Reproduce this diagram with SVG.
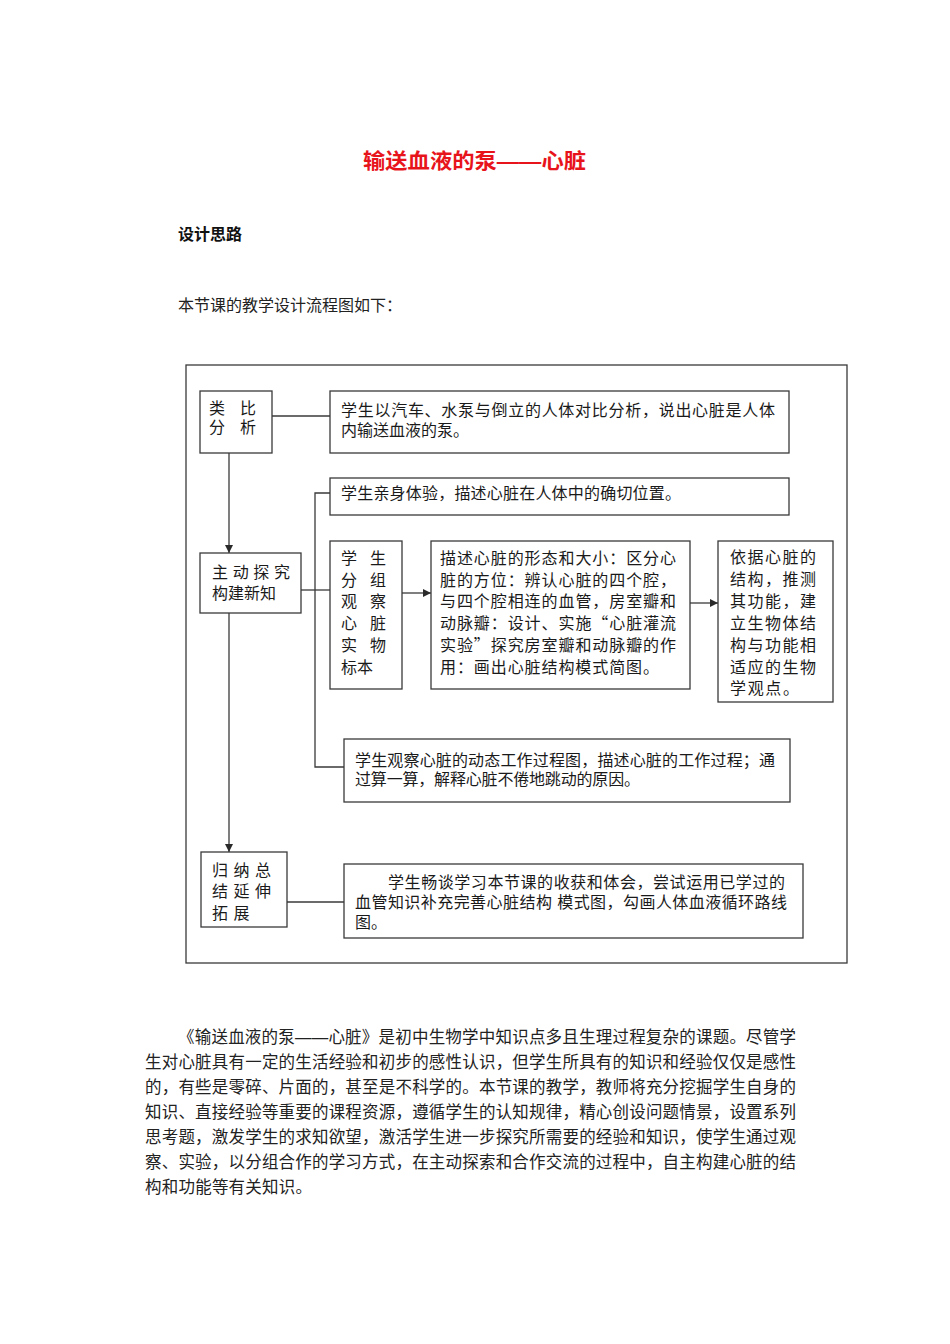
<svg xmlns="http://www.w3.org/2000/svg" width="950" height="1344" viewBox="0 0 950 1344">
<style>
.bg{fill:#ffffff}
.box{fill:#ffffff;stroke:#3a3a3a;stroke-width:1.3}
.frame{fill:none;stroke:#3a3a3a;stroke-width:1.3}
.ln{fill:none;stroke:#3a3a3a;stroke-width:1.3}
.t{font-family:"Liberation Sans","Noto Sans CJK SC","Noto Sans CJK JP",sans-serif;font-size:16px;fill:#1a1a1a}
.p{font-family:"Liberation Sans","Noto Sans CJK SC","Noto Sans CJK JP",sans-serif;font-size:16.5px;fill:#222222}
.title{font-family:"Liberation Sans","Noto Sans CJK SC","Noto Sans CJK JP",sans-serif;font-size:21px;font-weight:bold;fill:#e8141b}
.h{font-family:"Liberation Sans","Noto Sans CJK SC","Noto Sans CJK JP",sans-serif;font-size:16px;font-weight:bold;fill:#111111}
.cjk{font-family:"Noto Sans CJK SC","Noto Sans CJK JP",sans-serif}
</style>
<defs>
<marker id="arr" viewBox="0 0 10 10" refX="10" refY="5" markerWidth="8" markerHeight="8" markerUnits="userSpaceOnUse" orient="auto">
<path d="M0,0 L10,5 L0,10 z" fill="#2a2a2a"/>
</marker>
</defs>
<rect class="bg" x="0" y="0" width="950" height="1344"/>

<text class="title" x="363" y="168" textLength="223" lengthAdjust="spacingAndGlyphs">输送血液的泵——心脏</text>
<text class="h" x="178" y="240">设计思路</text>
<text class="p" x="178" y="311" style="font-size:16px">本节课的教学设计流程图如下：</text>

<rect class="frame" x="186" y="365" width="661" height="598"/>

<g id="connectors">
<line class="ln" x1="272" y1="416" x2="330" y2="416"/>
<line class="ln" x1="229" y1="453" x2="229" y2="553" marker-end="url(#arr)"/>
<line class="ln" x1="301" y1="590" x2="330" y2="590"/>
<polyline class="ln" points="330,493 315,493 315,767 344,767"/>
<line class="ln" x1="402" y1="593" x2="431" y2="593" marker-end="url(#arr)"/>
<line class="ln" x1="690" y1="603" x2="718" y2="603" marker-end="url(#arr)"/>
<line class="ln" x1="229" y1="613" x2="229" y2="852" marker-end="url(#arr)"/>
<line class="ln" x1="287" y1="902" x2="344" y2="902"/>
</g>

<g id="n-leibi">
<rect class="box" x="200" y="391" width="72" height="62"/>
<text class="t" x="209 240" y="414">类比</text>
<text class="t" x="209 240" y="433">分析</text>
</g>

<g id="n-analogy">
<rect class="box" x="330" y="391" width="459" height="62"/>
<text class="t" x="341" y="416" textLength="434" lengthAdjust="spacing">学生以汽车、水泵与倒立的人体对比分析，说出心脏是人体</text>
<text class="t" x="341" y="436">内输送血液的泵。</text>
</g>

<g id="n-experience">
<rect class="box" x="330" y="478" width="459" height="37"/>
<text class="t" x="341" y="499" textLength="340" lengthAdjust="spacing">学生亲身体验，描述心脏在人体中的确切位置。</text>
</g>

<g id="n-explore">
<rect class="box" x="200" y="553" width="101" height="60"/>
<text class="t" x="212" y="578" textLength="78" lengthAdjust="spacing">主动探究</text>
<text class="t" x="212" y="599">构建新知</text>
</g>

<g id="n-group">
<rect class="box" x="330" y="541" width="72" height="148"/>
<text class="t" x="341 370" y="564">学生</text>
<text class="t" x="341 370" y="586">分组</text>
<text class="t" x="341 370" y="607">观察</text>
<text class="t" x="341 370" y="629">心脏</text>
<text class="t" x="341 370" y="651">实物</text>
<text class="t" x="341" y="673">标本</text>
</g>

<g id="n-describe">
<rect class="box" x="431" y="541" width="259" height="148"/>
<text class="t" x="440" y="564" textLength="236" lengthAdjust="spacing">描述心脏的形态和大小：区分心</text>
<text class="t" x="440" y="586" textLength="236" lengthAdjust="spacing">脏的方位：辨认心脏的四个腔，</text>
<text class="t" x="440" y="607" textLength="236" lengthAdjust="spacing">与四个腔相连的血管，房室瓣和</text>
<text class="t" x="440" y="629" textLength="236" lengthAdjust="spacing">动脉瓣：设计、实施<tspan class="cjk">“</tspan>心脏灌流</text>
<text class="t" x="440" y="651" textLength="236" lengthAdjust="spacing">实验<tspan class="cjk">”</tspan>探究房室瓣和动脉瓣的作</text>
<text class="t" x="440" y="673" textLength="219" lengthAdjust="spacing">用：画出心脏结构模式简图。</text>
</g>

<g id="n-infer">
<rect class="box" x="718" y="541" width="115" height="161"/>
<text class="t" x="730" y="563" textLength="86" lengthAdjust="spacing">依据心脏的</text>
<text class="t" x="730" y="585" textLength="86" lengthAdjust="spacing">结构，推测</text>
<text class="t" x="730" y="607" textLength="86" lengthAdjust="spacing">其功能，建</text>
<text class="t" x="730" y="629" textLength="86" lengthAdjust="spacing">立生物体结</text>
<text class="t" x="730" y="651" textLength="86" lengthAdjust="spacing">构与功能相</text>
<text class="t" x="730" y="673" textLength="86" lengthAdjust="spacing">适应的生物</text>
<text class="t" x="730" y="694" textLength="69" lengthAdjust="spacing">学观点。</text>
</g>

<g id="n-observe">
<rect class="box" x="344" y="739" width="446" height="63"/>
<text class="t" x="355" y="766" textLength="420" lengthAdjust="spacing">学生观察心脏的动态工作过程图，描述心脏的工作过程；通</text>
<text class="t" x="355" y="785" textLength="285" lengthAdjust="spacing">过算一算，解释心脏不倦地跳动的原因。</text>
</g>

<g id="n-summary">
<rect class="box" x="201" y="852" width="86" height="75"/>
<text class="t" x="212 233.5 255" y="876">归纳总</text>
<text class="t" x="212 233.5 255" y="897">结延伸</text>
<text class="t" x="212 233.5" y="919">拓展</text>
</g>

<g id="n-reflect">
<rect class="box" x="344" y="864" width="459" height="74"/>
<text class="t" x="388" y="888" textLength="397" lengthAdjust="spacing">学生畅谈学习本节课的收获和体会，尝试运用已学过的</text>
<text class="t" x="355" y="908" textLength="432" lengthAdjust="spacing">血管知识补充完善心脏结构 模式图，勾画人体血液循环路线</text>
<text class="t" x="355" y="928">图。</text>
</g>

<g id="paragraph">
<text class="p" x="178" y="1043" textLength="618" lengthAdjust="spacing">《输送血液的泵——心脏》是初中生物学中知识点多且生理过程复杂的课题。尽管学</text>
<text class="p" x="145" y="1068" textLength="651" lengthAdjust="spacing">生对心脏具有一定的生活经验和初步的感性认识，但学生所具有的知识和经验仅仅是感性</text>
<text class="p" x="145" y="1093" textLength="651" lengthAdjust="spacing">的，有些是零碎、片面的，甚至是不科学的。本节课的教学，教师将充分挖掘学生自身的</text>
<text class="p" x="145" y="1118" textLength="651" lengthAdjust="spacing">知识、直接经验等重要的课程资源，遵循学生的认知规律，精心创设问题情景，设置系列</text>
<text class="p" x="145" y="1143" textLength="651" lengthAdjust="spacing">思考题，激发学生的求知欲望，激活学生进一步探究所需要的经验和知识，使学生通过观</text>
<text class="p" x="145" y="1168" textLength="651" lengthAdjust="spacing">察、实验，以分组合作的学习方式，在主动探索和合作交流的过程中，自主构建心脏的结</text>
<text class="p" x="145" y="1193" textLength="167" lengthAdjust="spacing">构和功能等有关知识。</text>
</g>
</svg>
